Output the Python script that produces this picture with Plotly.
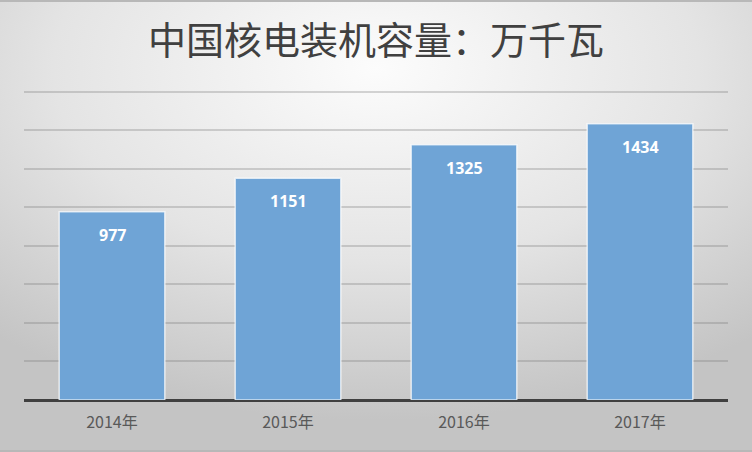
import base64
import plotly.graph_objects as go

# 中国核电装机容量（万千瓦）
years = ["2014年", "2015年", "2016年", "2017年"]
capacity = [977, 1151, 1325, 1434]
y_ticks = [0, 200, 400, 600, 800, 1000, 1200, 1400, 1600]

W, H = 752, 452
ML, MR, MT, MB = 24, 24, 87, 52

# radial grey background like the Excel chart style
svg = f"""<svg xmlns='http://www.w3.org/2000/svg' width='{W}' height='{H}'>
<defs><radialGradient id='g' cx='50%' cy='15%' r='78%' fx='50%' fy='15%'>
<stop offset='0%' stop-color='#fcfcfc'/>
<stop offset='55%' stop-color='#e4e4e4'/>
<stop offset='100%' stop-color='#c4c4c4'/>
</radialGradient></defs>
<rect width='{W}' height='{H}' fill='url(#g)'/>
<rect width='{W}' height='2' fill='#b8b8b8'/>
<rect y='{H - 2}' width='{W}' height='2' fill='#b8b8b8'/>
</svg>"""
bg = "data:image/svg+xml;base64," + base64.b64encode(svg.encode()).decode()

pw, ph = W - ML - MR, H - MT - MB

fig = go.Figure()
fig.add_trace(go.Bar(
    x=years, y=capacity,
    marker=dict(color="rgb(111,164,214)",
                line=dict(color="rgba(255,255,255,0.7)", width=1.5)),
    width=0.6,
    hoverinfo="x+y",
))

for yr, v in zip(years, capacity):
    fig.add_annotation(
        x=yr, y=v, text=f"<b>{v}</b>", showarrow=False,
        yanchor="top", yshift=-10,
        font=dict(family="Open Sans, DejaVu Sans, sans-serif", size=16, color="white"),
    )

fig.add_layout_image(dict(
    source=bg, xref="paper", yref="paper",
    x=-ML / pw, y=1 + MT / ph, sizex=W / pw, sizey=H / ph,
    xanchor="left", yanchor="top", sizing="stretch", layer="below",
))

fig.update_layout(
    width=W, height=H,
    margin=dict(l=ML, r=MR, t=MT, b=MB),
    paper_bgcolor="#d9d9d9",
    plot_bgcolor="rgba(0,0,0,0)",
    title=dict(text="中国核电装机容量：万千瓦", x=0.5, xanchor="center",
               y=0.91, yanchor="middle",
               font=dict(family="Noto Sans CJK SC", size=38, color="#404040")),
    showlegend=False,
    bargap=0.4,
    xaxis=dict(showgrid=False, showline=False, ticks="outside", ticklen=8,
               tickcolor="rgba(0,0,0,0)",
               tickfont=dict(family="Noto Sans CJK SC", size=16, color="#595959")),
    yaxis=dict(range=[0, 1625], tickvals=y_ticks, showticklabels=False,
               showgrid=True, gridcolor="rgba(120,120,120,0.3)", gridwidth=1.5,
               zeroline=True, zerolinecolor="#404040", zerolinewidth=3),
)

fig.write_html("out.html", config={"displayModeBar": False},
               post_script="document.body.style.margin='0';")
